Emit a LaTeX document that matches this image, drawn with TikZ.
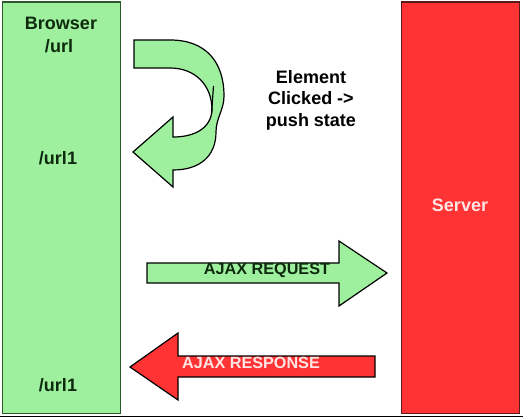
\documentclass[tikz,border=0pt]{standalone}
\usepackage{fontspec}
\setmainfont{Liberation Sans}
\definecolor{lgreen}{HTML}{9EF09E}
\definecolor{dgreen}{HTML}{2A5A2A}
\definecolor{sred}{HTML}{FF3333}
\definecolor{dred}{HTML}{5A1A1A}
\definecolor{pinkw}{HTML}{FFE4E4}
\definecolor{gtext}{HTML}{0E2A0E}
\begin{document}
\begin{tikzpicture}[x=1pt,y=-1pt,
  lbl/.style={font=\fontsize{18}{21.5}\selectfont\bfseries, align=center, inner sep=0pt},
  albl/.style={font=\fontsize{16.2}{19}\selectfont\bfseries, inner sep=0pt},
  arrowshape/.style={line width=1.2pt, draw=black, line join=miter}]
\useasboundingbox (0,0) rectangle (524,419);
\fill[white] (0,0) rectangle (524,419);
% Browser column
\node[draw=dgreen, fill=lgreen, line width=1.2pt, minimum width=118pt, minimum height=411pt, inner sep=0pt, anchor=north west] (browser) at (2,1.5) {};
% Server column
\node[draw=dred, fill=sred, line width=1.2pt, minimum width=118pt, minimum height=411pt, inner sep=0pt, anchor=north west] (server) at (401,1.5) {};
% frame line
\coordinate (fl) at (0,416.5);
\coordinate (fr) at (523,416.5);
\draw[line width=1.5pt] (fl) -- (fr);
% Browser texts
\node[lbl, text=gtext] (tbrowser) at (61,23) {Browser};
\node[lbl, text=gtext] (turl) at (59,46) {/url};
\node[lbl, text=gtext] (turl1) at (58,158) {/url1};
\node[lbl, text=gtext] (turl2) at (58,385) {/url1};
% Server text
\node[lbl, text=pinkw] (tserver) at (460,205) {Server};
% Element clicked label
\node[lbl, text=black] (tclick) at (311,100) {Element\\Clicked ->\\push state};
% U-turn arrow
\draw[arrowshape, fill=lgreen] (134,40) -- (170,40)
  .. controls (206,40) and (224,62) .. (224,96)
  .. controls (224,110) and (216,118) .. (216,132)
  .. controls (216,156) and (200,170) .. (173,170)
  -- (173,187) -- (133,152) -- (173,117) -- (173,137)
  .. controls (195,137) and (211,128) .. (212,110)
  .. controls (212,85) and (195,68) .. (170,68)
  -- (134,68) -- cycle;
\draw[line width=1.2pt] (213.5,86) -- (211.5,114);
% AJAX request arrow
\draw[arrowshape, fill=lgreen] (147,263) -- (339,263) -- (339,241) -- (387,273) -- (339,306) -- (339,283) -- (147,283) -- cycle;
\node[albl, text=gtext] (treq) at (267,270) {AJAX REQUEST};
% AJAX response arrow
\draw[arrowshape, fill=sred] (375,356) -- (178,356) -- (178,333) -- (130,367) -- (178,400) -- (178,377) -- (375,377) -- cycle;
\node[albl, text=pinkw] (tres) at (251,363) {AJAX RESPONSE};
\end{tikzpicture}
\end{document}
